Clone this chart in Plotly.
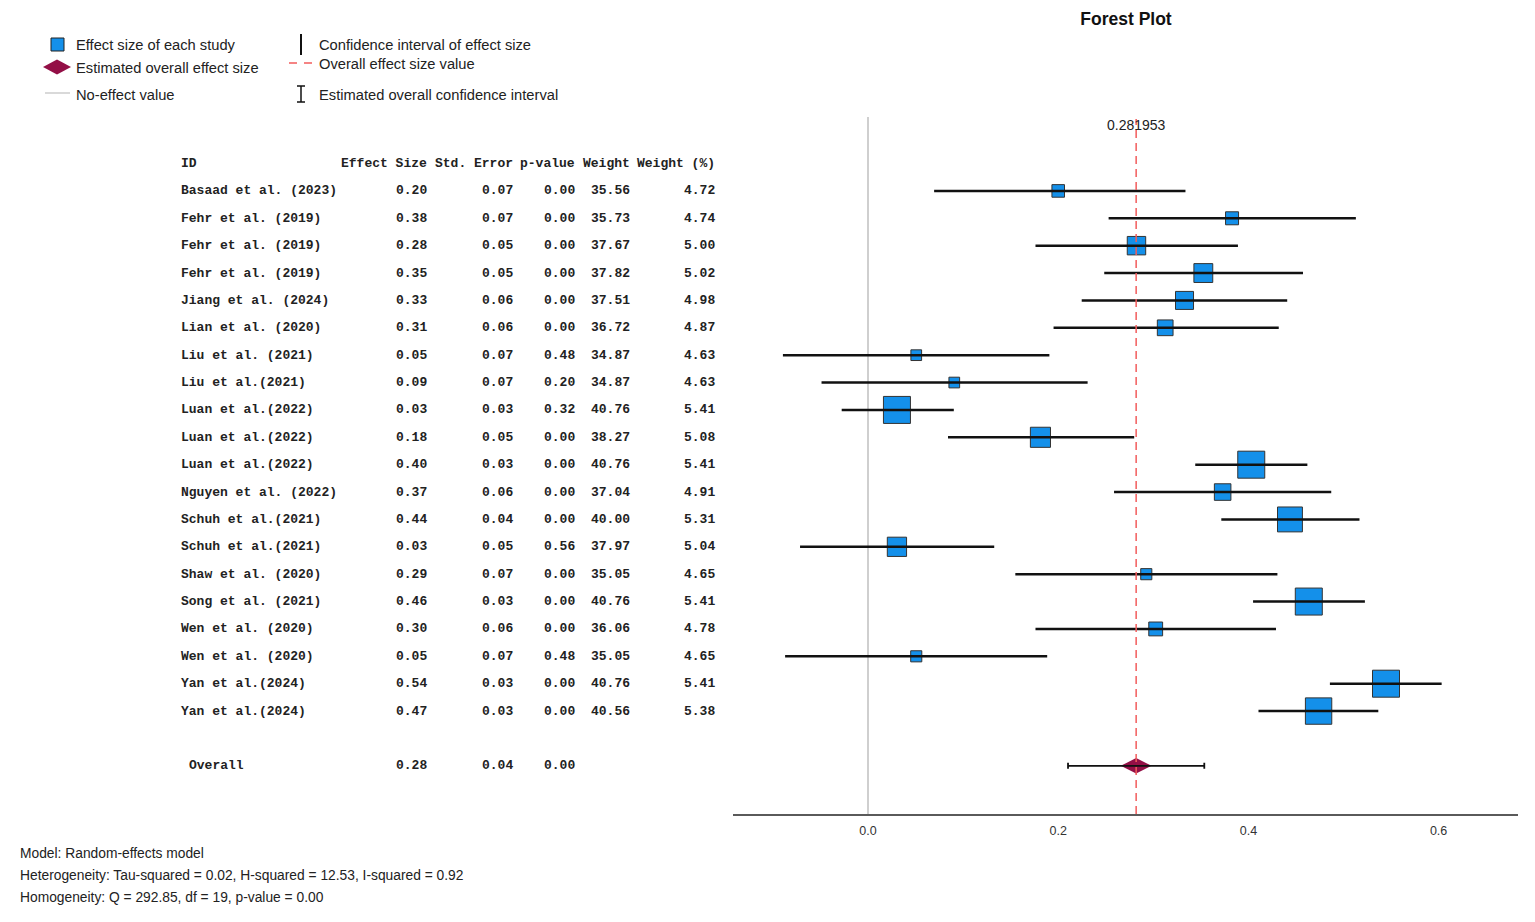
import plotly.graph_objects as go

# study table
study_ids = ["Basaad et al. (2023)", "Fehr et al. (2019)", "Fehr et al. (2019)", "Fehr et al. (2019)",
             "Jiang et al. (2024)", "Lian et al. (2020)", "Liu et al. (2021)", "Liu et al.(2021)",
             "Luan et al.(2022)", "Luan et al.(2022)", "Luan et al.(2022)", "Nguyen et al. (2022)",
             "Schuh et al.(2021)", "Schuh et al.(2021)", "Shaw et al. (2020)", "Song et al. (2021)",
             "Wen et al. (2020)", "Wen et al. (2020)", "Yan et al.(2024)", "Yan et al.(2024)"]
effect_size = [0.2000, 0.3828, 0.2823, 0.3526, 0.3328, 0.3125, 0.0507, 0.0907, 0.0304, 0.1813,
               0.4030, 0.3729, 0.4437, 0.0304, 0.2926, 0.4635, 0.3025, 0.0507, 0.5447, 0.4738]
ci_lower = [0.0695, 0.2530, 0.1761, 0.2484, 0.2247, 0.1951, -0.0895, -0.0489, -0.0277, 0.0841,
            0.3441, 0.2587, 0.3715, -0.0715, 0.1549, 0.4049, 0.1761, -0.0872, 0.4857, 0.4106]
ci_upper = [0.3338, 0.5130, 0.3890, 0.4574, 0.4408, 0.4319, 0.1907, 0.2309, 0.0902, 0.2799,
            0.4620, 0.4871, 0.5168, 0.1327, 0.4305, 0.5225, 0.4290, 0.1884, 0.6032, 0.5366]
std_error = [0.07, 0.07, 0.05, 0.05, 0.06, 0.06, 0.07, 0.07, 0.03, 0.05,
             0.03, 0.06, 0.04, 0.05, 0.07, 0.03, 0.06, 0.07, 0.03, 0.03]
p_value = [0.00, 0.00, 0.00, 0.00, 0.00, 0.00, 0.48, 0.20, 0.32, 0.00,
           0.00, 0.00, 0.00, 0.56, 0.00, 0.00, 0.00, 0.48, 0.00, 0.00]
weight = [35.56, 35.73, 37.67, 37.82, 37.51, 36.72, 34.87, 34.87, 40.76, 38.27,
          40.76, 37.04, 40.00, 37.97, 35.05, 40.76, 36.06, 35.05, 40.76, 40.56]
weight_pct = [4.72, 4.74, 5.00, 5.02, 4.98, 4.87, 4.63, 4.63, 5.41, 5.08,
              5.41, 4.91, 5.31, 5.04, 4.65, 5.41, 4.78, 4.65, 5.41, 5.38]

overall_effect = 0.281953
overall_se = 0.04
overall_p = 0.00
overall_ci = [0.2103, 0.3536]

tick_vals = [0.0, 0.2, 0.4, 0.6]
footer_lines = ["Model: Random-effects model",
                "Heterogeneity: Tau-squared = 0.02, H-squared = 12.53, I-squared = 0.92",
                "Homogeneity: Q = 292.85, df = 19, p-value = 0.00"]

W, H = 1535, 922


def px(x):
    return x / W


def py(y):
    return 1 - y / H


rows = list(range(1, len(study_ids) + 1))
overall_row = len(study_ids) + 2
sizes = [10.7 + (w - 4.63) * 20.9 for w in weight_pct]

SANS = "Liberation Sans, Arial, sans-serif"
MONO = "Liberation Mono, Courier New, monospace"
BLUE = "#1490ea"
MAROON = "#930f46"

fig = go.Figure()

# study squares, then CI lines drawn on top of them
fig.add_trace(go.Scatter(
    x=effect_size, y=rows, mode="markers",
    marker=dict(symbol="square", size=sizes, color=BLUE, opacity=1,
                line=dict(color="#333", width=1)),
    showlegend=False, hoverinfo="x+y"))
fig.add_trace(go.Scatter(
    x=effect_size, y=rows, mode="markers", marker=dict(size=1, opacity=0),
    error_x=dict(type="data", symmetric=False,
                 array=[u - e for u, e in zip(ci_upper, effect_size)],
                 arrayminus=[e - l for e, l in zip(effect_size, ci_lower)],
                 color="#111", thickness=2.5, width=0),
    showlegend=False, hoverinfo="skip"))

fig.add_trace(go.Scatter(
    x=[overall_effect], y=[overall_row], mode="markers",
    marker=dict(symbol="diamond-wide", size=22, color=MAROON, opacity=1, line=dict(width=0)),
    showlegend=False))
fig.add_trace(go.Scatter(
    x=[overall_effect], y=[overall_row], mode="markers", marker=dict(size=1, opacity=0),
    error_x=dict(type="data", symmetric=False,
                 array=[overall_ci[1] - overall_effect],
                 arrayminus=[overall_effect - overall_ci[0]],
                 color="#111", thickness=1.8, width=3),
    showlegend=False, hoverinfo="skip"))

ann = []
# table header
col_right = [428.8, 514.6, 577.0, 631.6, 717.4]
headers = ["Effect Size", "Std. Error", "p-value", "Weight", "Weight (%)"]
tfont = dict(family=MONO, size=13, color="#222", weight="bold")
ann.append(dict(text="ID", x=px(179), xref="paper", y=0, yref="y", xanchor="left",
                showarrow=False, font=tfont))
for h, xr in zip(headers, col_right):
    ann.append(dict(text=h, x=px(xr), xref="paper", y=0, yref="y", xanchor="right",
                    showarrow=False, font=tfont))
for i, r in enumerate(rows):
    ann.append(dict(text=study_ids[i], x=px(179), xref="paper", y=r, yref="y", xanchor="left",
                    showarrow=False, font=tfont))
    vals = [f"{effect_size[i]:.2f}", f"{std_error[i]:.2f}", f"{p_value[i]:.2f}",
            f"{weight[i]:.2f}", f"{weight_pct[i]:.2f}"]
    for v, xr in zip(vals, col_right):
        ann.append(dict(text=v, x=px(xr), xref="paper", y=r, yref="y", xanchor="right",
                        showarrow=False, font=tfont))
ann.append(dict(text="Overall", x=px(187), xref="paper", y=overall_row, yref="y", xanchor="left",
                showarrow=False, font=tfont))
for v, xr in zip([f"{overall_effect:.2f}", f"{overall_se:.2f}", f"{overall_p:.2f}"], col_right):
    ann.append(dict(text=v, x=px(xr), xref="paper", y=overall_row, yref="y", xanchor="right",
                    showarrow=False, font=tfont))

# overall value label
ann.append(dict(text=f"{overall_effect}", x=overall_effect, xref="x", y=-1.41, yref="y",
                showarrow=False, font=dict(family=SANS, size=14, color="#222")))

# footer
for k, line in enumerate(footer_lines):
    ann.append(dict(text=line, x=px(18), xref="paper", y=py(853 + 22 * k), yref="paper",
                    xanchor="left", yanchor="middle", showarrow=False,
                    font=dict(family=SANS, size=13.8, color="#222")))

# legend
lfont = dict(family=SANS, size=14.7, color="#222")
legend_items = [("Effect size of each study", 74, 45), ("Estimated overall effect size", 74, 68),
                ("No-effect value", 74, 95), ("Confidence interval of effect size", 317, 45),
                ("Overall effect size value", 317, 64), ("Estimated overall confidence interval", 317, 95)]
for t, lx, ly in legend_items:
    ann.append(dict(text=t, x=px(lx), xref="paper", y=py(ly), yref="paper", xanchor="left",
                    yanchor="middle", showarrow=False, font=lfont))

shapes = [
    # overall effect reference line
    dict(type="line", xref="x", yref="paper", x0=overall_effect, x1=overall_effect,
         y0=py(814), y1=py(119), line=dict(color="#f25c5c", width=1.5, dash="8px,5px")),
    # legend glyphs
    dict(type="rect", xref="paper", yref="paper", x0=px(51), x1=px(64), y0=py(51), y1=py(38),
         fillcolor=BLUE, line=dict(color="#222", width=1)),
    dict(type="path", xref="paper", yref="paper",
         path=f"M{px(43)},{py(67)} L{px(57)},{py(59.5)} L{px(71)},{py(67)} L{px(57)},{py(74.5)} Z",
         fillcolor=MAROON, line=dict(width=0)),
    dict(type="line", xref="paper", yref="paper", x0=px(45), x1=px(70), y0=py(93), y1=py(93),
         line=dict(color="#cccccc", width=1.5)),
    dict(type="line", xref="paper", yref="paper", x0=px(301), x1=px(301), y0=py(34), y1=py(55),
         line=dict(color="#111", width=2)),
    dict(type="line", xref="paper", yref="paper", x0=px(289), x1=px(314), y0=py(63), y1=py(63),
         line=dict(color="#f25c5c", width=1.5, dash="8px,7px")),
    dict(type="line", xref="paper", yref="paper", x0=px(301), x1=px(301), y0=py(86), y1=py(102),
         line=dict(color="#111", width=1.5)),
    dict(type="line", xref="paper", yref="paper", x0=px(297), x1=px(305), y0=py(86), y1=py(86),
         line=dict(color="#111", width=1.5)),
    dict(type="line", xref="paper", yref="paper", x0=px(297), x1=px(305), y0=py(102), y1=py(102),
         line=dict(color="#111", width=1.5)),
]

fig.update_layout(
    width=W, height=H, margin=dict(l=0, r=0, t=0, b=0),
    paper_bgcolor="white", plot_bgcolor="white",
    title=dict(text="<b>Forest Plot</b>", x=px(1126), xanchor="center", y=py(19), yanchor="middle",
               xref="paper", yref="container", font=dict(family=SANS, size=17.5, color="#111")),
    xaxis=dict(domain=[px(733), px(1518)], range=[-0.142, 0.6835], showgrid=False,
               zeroline=True, zerolinecolor="#cfcfcf", zerolinewidth=1.5,
               showline=True, linecolor="#5a5a5a", linewidth=2, ticks="",
               tickvals=tick_vals, ticktext=[f"{v:.1f}" for v in tick_vals],
               tickfont=dict(family=SANS, size=12.5, color="#333"), ticklabelstandoff=4),
    yaxis=dict(domain=[py(814), py(117)], range=[23.76, -1.70], visible=False),
    annotations=ann, shapes=shapes, showlegend=False,
)

fig.write_html("out.html", config={"displayModeBar": False},
               post_script="document.body.style.margin='0';document.body.style.overflow='hidden';")
